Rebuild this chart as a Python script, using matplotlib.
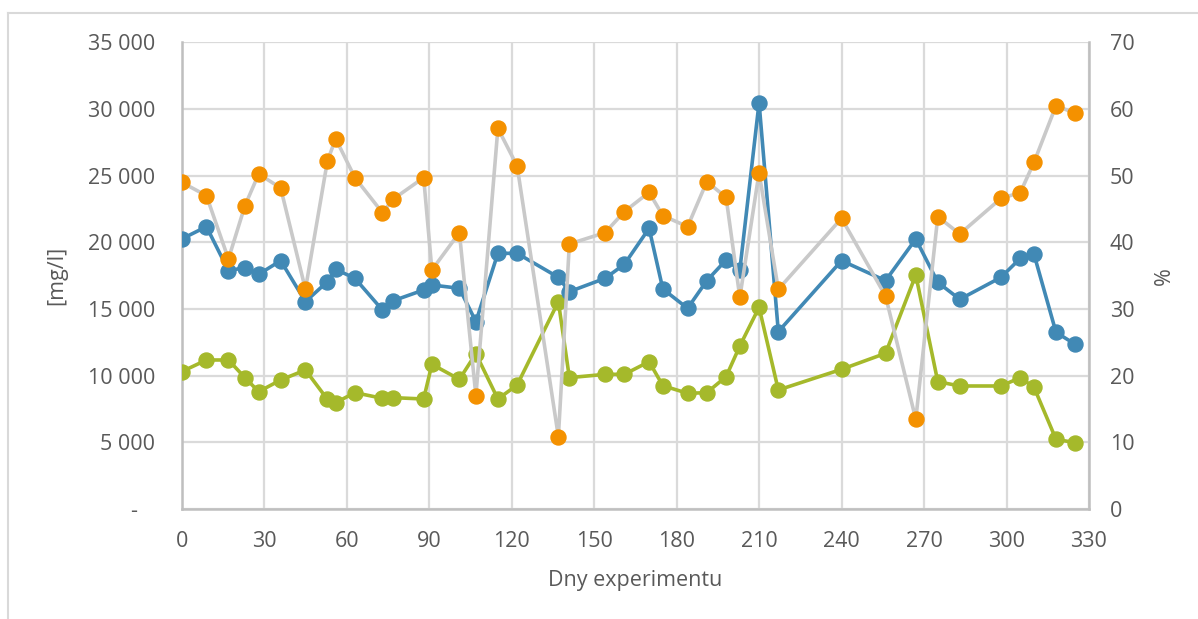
import matplotlib
matplotlib.use("Agg")
import matplotlib.pyplot as plt
from matplotlib.ticker import FuncFormatter, MultipleLocator
from matplotlib.lines import Line2D

days = [0, 9, 17, 23, 28, 36, 45, 53, 56, 63, 73, 77, 88, 91, 101, 107, 115, 122,
        137, 141, 154, 161, 170, 175, 184, 191, 198, 203, 210, 217, 240, 256, 267,
        275, 283, 298, 305, 310, 318, 325]

blue_mg = [20250, 21175, 17875, 18100, 17600, 18625, 15550, 17050, 17975, 17300,
           14925, 15625, 16425, 16800, 16550, 14050, 19175, 19175, 17375, 16300,
           17300, 18350, 21050, 16500, 15050, 17125, 18675, 17925, 30475, 13300,
           18625, 17125, 20250, 17000, 15725, 17375, 18800, 19100, 13250, 12350]

green_mg = [10300, 11175, 11175, 9850, 8800, 9675, 10425, 8225, 7975, 8725,
            8300, 8350, 8250, 10850, 9725, 11650, 8250, 9300, 15550, 9850,
            10100, 10100, 11050, 9250, 8675, 8725, 9925, 12225, 15125, 8925,
            10475, 11675, 17550, 9550, 9225, 9225, 9850, 9125, 5225, 4975]

orange_pct = [49.0, 47.0, 37.5, 45.5, 50.25, 48.15, 32.95, 52.2, 55.55, 49.7,
              44.45, 46.5, 49.7, 35.85, 41.45, 17.0, 57.1, 51.45, 10.85, 39.75,
              41.45, 44.6, 47.5, 44.0, 42.35, 49.1, 46.75, 31.75, 50.45, 32.95,
              43.6, 31.95, 13.45, 43.85, 41.25, 46.6, 47.45, 52.0, 60.5, 59.35]

x_ticks = list(range(0, 331, 30))
x_label = "Dny experimentu"
y_label_left = "[mg/l]"
y_label_right = "%"

BLUE = "#4189B5"
GREEN = "#A5B92B"
ORANGE = "#F49100"
GRAY = "#C9C9C9"
GRID = "#DADADA"
SPINE = "#BFBFBF"
TEXT = "#595959"
FS = 15.5

plt.rcParams['font.family'] = ['Open Sans', 'DejaVu Sans']

W, H = 1198, 619
fig = plt.figure(figsize=(W / 100, H / 100), dpi=100)
ax = fig.add_axes([181.7 / W, (H - 509) / H, (1089 - 181.7) / W, (509 - 42.3) / H])

# outer chart frame (top and left edges visible)
fig.add_artist(Line2D([8 / W, 8 / W], [0, (H - 13) / H], transform=fig.transFigure,
                      color="#D9D9D9", lw=1.5))
fig.add_artist(Line2D([8 / W, 1], [(H - 13) / H, (H - 13) / H], transform=fig.transFigure,
                      color="#D9D9D9", lw=1.5))

ax.set_xlim(0, 330)
ax.set_ylim(0, 35000)
ax.set_xticks(x_ticks)
ax.yaxis.set_major_locator(MultipleLocator(5000))
ax.yaxis.set_major_formatter(FuncFormatter(
    lambda v, p: "-   " if v == 0 else f"{v:,.0f}".replace(",", " ")))
ax.grid(True, color=GRID, lw=1.6, zorder=0)
ax.set_axisbelow(True)

ax.plot(days, green_mg, color=GREEN, lw=2.6, marker="o", ms=10.8, zorder=3)
ax.plot(days, blue_mg, color=BLUE, lw=2.6, marker="o", ms=10.8, zorder=4)

ax2 = ax.twinx()
ax2.set_ylim(0, 70)
ax2.yaxis.set_major_locator(MultipleLocator(10))
ax2.plot(days, orange_pct, color=GRAY, lw=2.6, zorder=3)
ax2.plot(days, orange_pct, color=ORANGE, lw=0, marker="o", ms=10.8, zorder=4)

for a in (ax, ax2):
    for s in a.spines.values():
        s.set_visible(False)
    a.tick_params(length=0, labelsize=FS, labelcolor=TEXT)

ax.spines["left"].set_visible(True)
ax.spines["left"].set_color(SPINE)
ax.spines["left"].set_linewidth(1.8)
ax.spines["bottom"].set_visible(True)
ax.spines["bottom"].set_color(SPINE)
ax.spines["bottom"].set_linewidth(1.8)
ax2.spines["right"].set_visible(True)
ax2.spines["right"].set_color(SPINE)
ax2.spines["right"].set_linewidth(1.8)

ax.tick_params(axis="y", pad=19)
ax.tick_params(axis="x", pad=16)
ax2.tick_params(axis="y", pad=15)

ax.set_xlabel(x_label, fontsize=FS, color=TEXT, labelpad=13)
ax.set_ylabel(y_label_left, fontsize=FS, color=TEXT, labelpad=15)
ax2.set_ylabel(y_label_right, fontsize=FS, color=TEXT, labelpad=14)

fig.savefig("out.png", dpi=100)
